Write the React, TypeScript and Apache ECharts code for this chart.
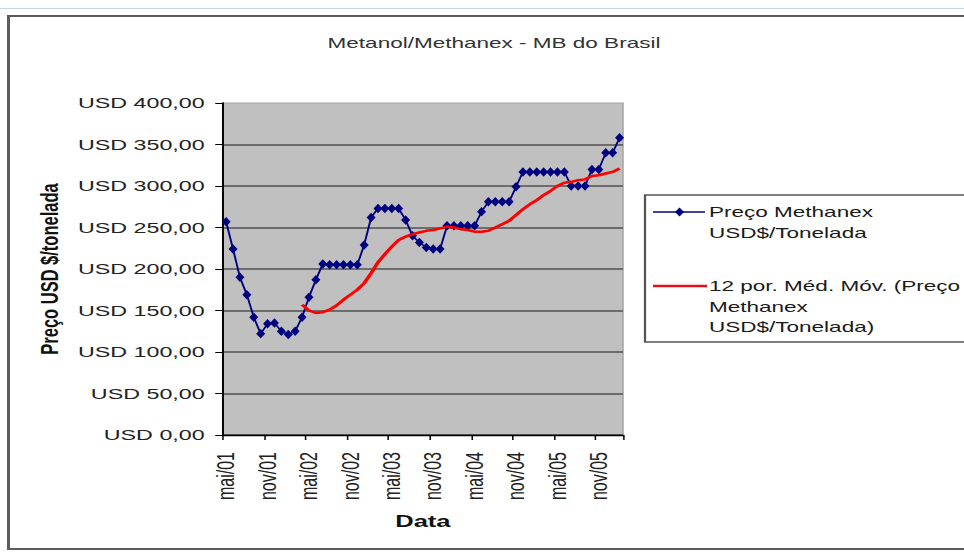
import React, { useEffect, useRef } from "react";
import * as echarts from "echarts";

// ---------- data ----------
const chartTitle = "Metanol/Methanex - MB do Brasil";
const xAxisTitle = "Data";
const yAxisTitle = "Preço USD $/tonelada";
const seriesPriceName = "Preço Methanex\nUSD$/Tonelada";
const seriesMaName = "12 por. Méd. Móv. (Preço\nMethanex\nUSD$/Tonelada)";

const categories = [
  "mai/01", "jun/01", "jul/01", "ago/01", "set/01", "out/01", "nov/01", "dez/01",
  "jan/02", "fev/02", "mar/02", "abr/02", "mai/02", "jun/02", "jul/02", "ago/02", "set/02", "out/02", "nov/02", "dez/02",
  "jan/03", "fev/03", "mar/03", "abr/03", "mai/03", "jun/03", "jul/03", "ago/03", "set/03", "out/03", "nov/03", "dez/03",
  "jan/04", "fev/04", "mar/04", "abr/04", "mai/04", "jun/04", "jul/04", "ago/04", "set/04", "out/04", "nov/04", "dez/04",
  "jan/05", "fev/05", "mar/05", "abr/05", "mai/05", "jun/05", "jul/05", "ago/05", "set/05", "out/05", "nov/05", "dez/05",
  "jan/06", "fev/06",
];

const prices = [
  257, 224, 190, 169, 142, 122, 134, 135, 125, 121, 125, 142,
  166, 187, 206, 205, 205, 205, 205, 205,
  229, 262, 273, 273, 273, 273, 259, 240, 232, 226, 224, 224,
  252, 252, 252, 252, 252, 269, 281, 281, 281, 281,
  299, 317, 317, 317, 317, 317, 317, 317, 300, 300, 300, 320, 320, 340, 340, 358,
];

// 12-period moving average, starts at the 12th month
const maStartIndex = 11;
const maValues = [
  157, 150, 147, 148, 151, 156, 163, 169, 175, 183,
  195, 208, 218, 227, 235, 239, 242, 244, 246, 247,
  249, 251, 250, 248, 247, 245, 245, 246, 250, 254,
  258, 265, 272, 278, 283, 289, 294, 300, 304, 305,
  307, 308, 312, 313, 315, 317, 321,
];

const yMin = 0;
const yMax = 400;
const yInterval = 50;
const yLabelPrefix = "USD ";

// ---------- layout ----------
const W = 642;
const H = 558;
const SX = 964 / W; // horizontal stretch of the reference picture
const X = (px: number) => px / SX;
const FONT = "'Liberation Sans', Arial, Helvetica, sans-serif";

export default function App() {
  const ref = useRef<HTMLDivElement>(null);

  useEffect(() => {
    if (!ref.current) return;
    const chart = echarts.init(ref.current, undefined, { renderer: "svg", width: W, height: H });

    const maData: (number | null)[] = [];
    for (let i = 0; i < maStartIndex; i++) maData.push(null);
    maValues.forEach((v) => maData.push(v));

    const gridLeft = X(222.7);
    const gridRight = X(623);

    const option: any = {
      animation: false,
      backgroundColor: "#ffffff",
      textStyle: { fontFamily: FONT },
      title: {
        text: chartTitle,
        left: X(494),
        top: 34,
        textAlign: "center",
        padding: 0,
        textStyle: { fontSize: 15, fontWeight: "normal", color: "#333333", fontFamily: FONT, lineHeight: 18 },
      },
      grid: {
        left: gridLeft,
        top: 103,
        width: gridRight - gridLeft,
        height: 332,
        show: true,
        backgroundColor: "#c0c0c0",
        borderColor: "#a4a4a4",
        borderWidth: 1,
      },
      xAxis: {
        type: "category",
        data: categories,
        boundaryGap: true,
        name: xAxisTitle,
        nameLocation: "middle",
        nameGap: 78,
        nameTextStyle: { fontSize: 17, fontWeight: "bold", color: "#111111", fontFamily: FONT },
        axisLine: { show: true, lineStyle: { color: "#000000", width: 1.3 } },
        axisTick: { show: true, interval: 5, alignWithLabel: false, length: 5, lineStyle: { color: "#000000", width: 1 } },
        axisLabel: { interval: 5, rotate: 90, margin: 17, fontSize: 16, color: "#222222", fontFamily: FONT },
        splitLine: { show: false },
      },
      yAxis: {
        type: "value",
        min: yMin,
        max: yMax,
        interval: yInterval,
        name: yAxisTitle,
        nameLocation: "middle",
        nameRotate: 90,
        nameGap: 107,
        nameTextStyle: { fontSize: 16.5, fontWeight: "bold", color: "#111111", fontFamily: FONT },
        axisLine: { show: true, lineStyle: { color: "#000000", width: 1.3 } },
        axisTick: { show: true, length: 5, lineStyle: { color: "#000000", width: 1 } },
        axisLabel: {
          margin: 12,
          fontSize: 15.5,
          color: "#222222",
          fontFamily: FONT,
          formatter: (v: number) => yLabelPrefix + v.toFixed(2).replace(".", ","),
        },
        splitLine: { show: true, showMaxLine: false, lineStyle: { color: "#505050", width: 1.6 } },
      },
      series: [
        {
          name: seriesPriceName,
          type: "line",
          data: prices,
          symbol: "diamond",
          symbolSize: [6, 9.5],
          showAllSymbol: true,
          lineStyle: { color: "#000080", width: 1.3 },
          itemStyle: { color: "#000080" },
          emphasis: { disabled: true },
          z: 2,
        },
        {
          name: seriesMaName,
          type: "line",
          data: maData,
          symbol: "none",
          connectNulls: false,
          lineStyle: { color: "#ff0000", width: 2.5 },
          itemStyle: { color: "#ff0000" },
          emphasis: { disabled: true },
          z: 3,
        },
      ],
      graphic: [
        {
          type: "line",
          shape: { x1: 0, y1: 8.5, x2: W, y2: 8.5 },
          style: { stroke: "#c8d8e8", lineWidth: 1 },
          z: 1,
        },
        {
          type: "rect",
          shape: { x: X(8.5), y: 16, width: W + 50, height: 533 },
          style: { fill: "none", stroke: "#5c5c5c", lineWidth: 2 },
          z: 1,
        },
        {
          type: "group",
          z: 100,
          children: [
            {
              type: "rect",
              shape: { x: X(645), y: 195, width: 300, height: 147 },
              style: { fill: "#ffffff", stroke: "#555555", lineWidth: 1.5 },
            },
            {
              type: "line",
              shape: { x1: X(653), y1: 212, x2: X(705), y2: 212 },
              style: { stroke: "#000080", lineWidth: 1.3 },
            },
            {
              type: "polygon",
              shape: {
                points: [
                  [X(679.5), 207.5],
                  [X(679.5) + 3, 212],
                  [X(679.5), 216.5],
                  [X(679.5) - 3, 212],
                ],
              },
              style: { fill: "#000080" },
            },
            {
              type: "text",
              x: X(709),
              y: 212 - 10.5,
              style: {
                text: seriesPriceName,
                font: "15px " + FONT,
                fill: "#1a1a1a",
                lineHeight: 21,
                verticalAlign: "top",
                align: "left",
              },
            },
            {
              type: "line",
              shape: { x1: X(653), y1: 286, x2: X(707), y2: 286 },
              style: { stroke: "#e01020", lineWidth: 2.5 },
            },
            {
              type: "text",
              x: X(709),
              y: 286 - 10.25,
              style: {
                text: seriesMaName,
                font: "15px " + FONT,
                fill: "#1a1a1a",
                lineHeight: 20.5,
                verticalAlign: "top",
                align: "left",
              },
            },
          ],
        },
      ],
    };

    chart.setOption(option);
    return () => {
      chart.dispose();
    };
  }, []);

  return (
    <div
      style={{
        position: "fixed",
        left: 0,
        top: 0,
        width: W,
        height: H,
        background: "#ffffff",
        transform: `scaleX(${SX})`,
        transformOrigin: "0 0",
      }}
    >
      <div ref={ref} style={{ width: W, height: H }} />
    </div>
  );
}
